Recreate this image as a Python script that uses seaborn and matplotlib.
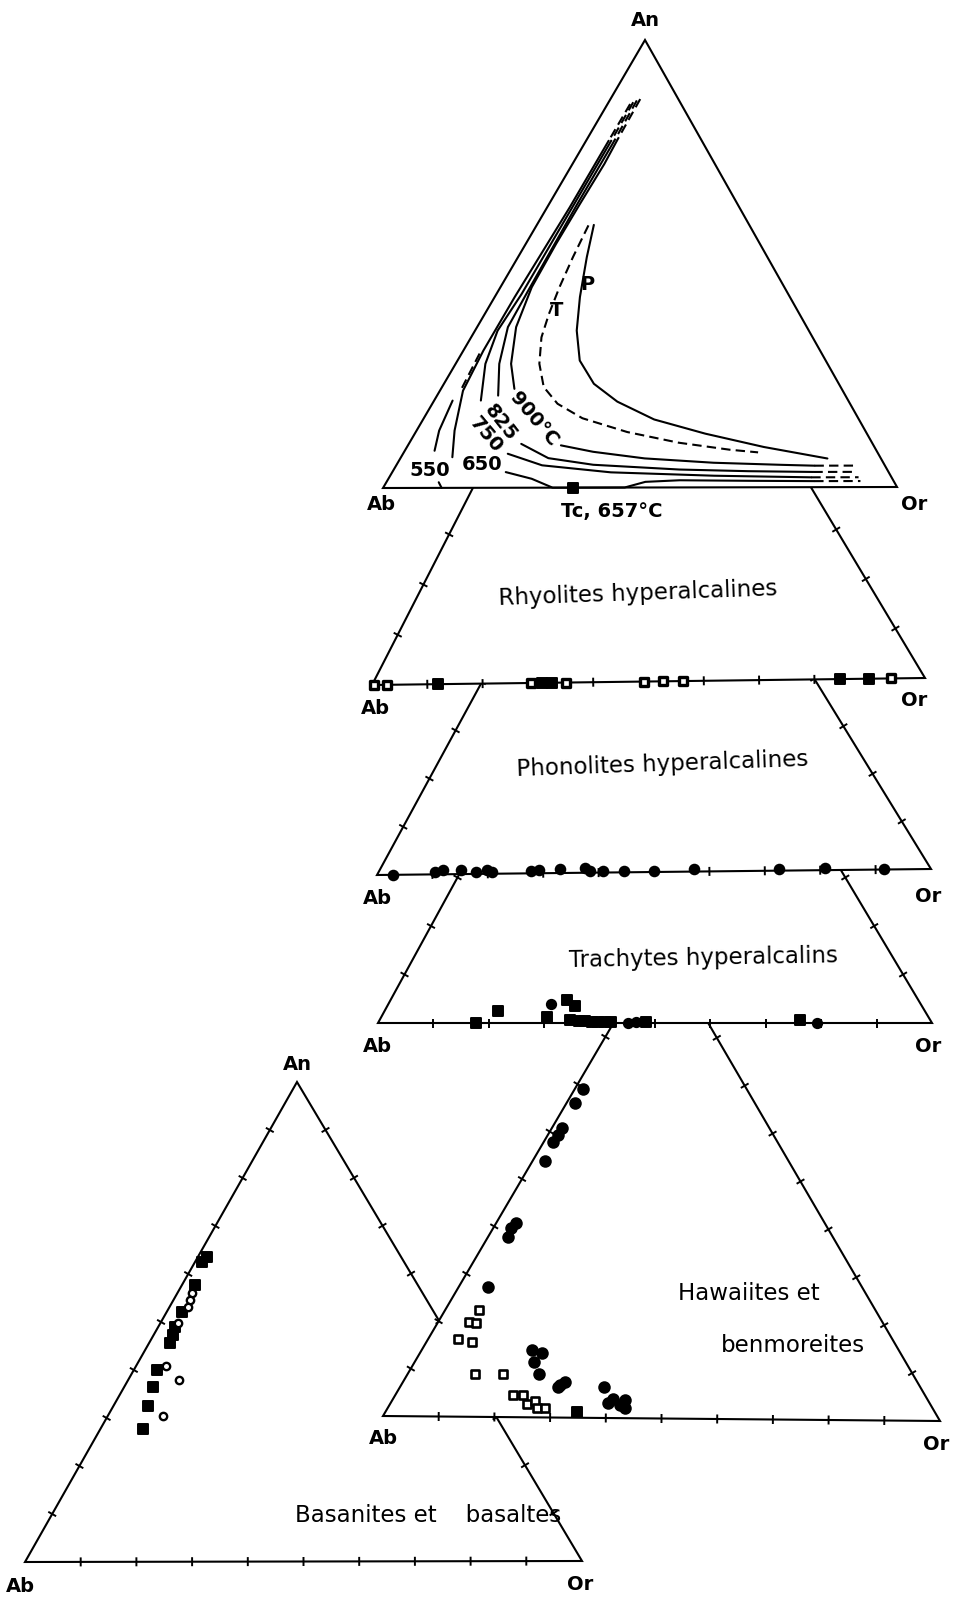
import matplotlib
matplotlib.use("Agg")
import matplotlib.pyplot as plt
from matplotlib.patches import Polygon
import numpy as np
import seaborn as sns

# ---------------- data: ternary fractions (An, Or), Ab = 1 - An - Or ----------------
# Rhyolites hyperalcalines (all on the Ab-Or join)
rhyo_or = [0.004, 0.028, 0.120, 0.288, 0.307, 0.325, 0.351, 0.492, 0.526, 0.562, 0.846, 0.899, 0.939]
rhyo_an = [0.0] * 13
rhyo_filled = [0, 0, 1, 0, 1, 1, 0, 0, 0, 0, 1, 1, 0]

# Phonolites hyperalcalines
phono_or = [0.028, 0.102, 0.115, 0.148, 0.177, 0.194, 0.205, 0.276, 0.289, 0.327,
            0.371, 0.382, 0.406, 0.445, 0.499, 0.569, 0.723, 0.807, 0.915]
phono_an = [0.0, 0.004, 0.008, 0.008, 0.004, 0.008, 0.004, 0.004, 0.006, 0.008,
            0.010, 0.004, 0.004, 0.002, 0.002, 0.006, 0.004, 0.004, 0.002]

# Trachytes hyperalcalins
trach_or = [0.177, 0.204, 0.299, 0.293, 0.318, 0.339, 0.344, 0.360, 0.371,
            0.384, 0.396, 0.409, 0.420, 0.452, 0.464, 0.482, 0.759, 0.793]
trach_an = [0.0, 0.025, 0.012, 0.040, 0.048, 0.036, 0.006, 0.005, 0.004,
            0.003, 0.003, 0.003, 0.002, 0.0, 0.002, 0.003, 0.007, 0.0]
trach_round = [0, 0, 0, 1, 0, 0, 0, 0, 0, 0, 0, 0, 0, 1, 1, 0, 0, 1]

# Hawaiites et benmoreites
haw_circ_an = [0.691, 0.660, 0.607, 0.593, 0.579, 0.538, 0.408, 0.396, 0.378, 0.273, 0.141, 0.136,
               0.117, 0.092, 0.068, 0.075, 0.064, 0.066, 0.031, 0.041, 0.028, 0.038, 0.021]
haw_circ_or = [0.015, 0.015, 0.018, 0.018, 0.017, 0.022, 0.035, 0.033, 0.036, 0.052, 0.198, 0.217,
               0.212, 0.234, 0.283, 0.289, 0.282, 0.363, 0.389, 0.393, 0.412, 0.415, 0.424]
haw_sq_an = [0.225, 0.198, 0.196, 0.163, 0.157, 0.090, 0.090, 0.047, 0.047, 0.028, 0.035, 0.019, 0.019]
haw_sq_or = [0.060, 0.056, 0.069, 0.053, 0.081, 0.120, 0.171, 0.210, 0.227, 0.244, 0.255, 0.267, 0.281]
haw_fsq_an = [0.011]
haw_fsq_or = [0.342]

# Basanites et basaltes
bas_sq_an = [0.636, 0.625, 0.577, 0.521, 0.490, 0.473, 0.456, 0.400, 0.365, 0.324, 0.277]
bas_sq_or = [0.016, 0.012, 0.023, 0.027, 0.030, 0.034, 0.037, 0.042, 0.051, 0.062, 0.077]
bas_circ_an = [0.560, 0.546, 0.532, 0.497, 0.408, 0.378, 0.303]
bas_circ_or = [0.026, 0.030, 0.033, 0.032, 0.054, 0.092, 0.099]

# Top diagram: solvus isotherms (An, Or) and critical point Tc
tc_an, tc_or = [0.0], [0.369]
iso900_top = ([0.868, 0.775], [0.058, 0.060])
iso900_left = ([0.775, 0.723, 0.634, 0.545, 0.448, 0.359, 0.277, 0.221],
               [0.060, 0.062, 0.060, 0.059, 0.061, 0.076, 0.108, 0.143])
iso900_base = ([0.0945, 0.080, 0.065, 0.055, 0.050, 0.048], [0.298, 0.368, 0.476, 0.615, 0.751, 0.815])
iso900_tail = ([0.048, 0.048], [0.815, 0.890])
iso825_top = ([0.865, 0.775], [0.053, 0.055])
iso825_left = ([0.775, 0.630, 0.440, 0.359, 0.277, 0.206], [0.055, 0.055, 0.058, 0.060, 0.085, 0.119])
iso825_base = ([0.098, 0.066, 0.051, 0.040, 0.036, 0.034], [0.219, 0.288, 0.383, 0.556, 0.692, 0.820])
iso825_tail = ([0.034, 0.034], [0.820, 0.903])
iso750_top = ([0.861, 0.775], [0.048, 0.049])
iso750_left = ([0.775, 0.630, 0.433, 0.351, 0.277, 0.195], [0.049, 0.049, 0.049, 0.044, 0.058, 0.091])
iso750_base = ([0.076, 0.050, 0.034, 0.026, 0.022], [0.204, 0.284, 0.426, 0.631, 0.822])
iso750_tail = ([0.022, 0.022], [0.822, 0.914])
iso650_top = ([0.857, 0.775], [0.044, 0.044])
iso650_left = ([0.775, 0.6265, 0.426, 0.3065, 0.217, 0.128, 0.0685],
               [0.044, 0.044, 0.039, 0.039, 0.045, 0.074, 0.100])
iso650_base = ([0.035, 0.020, 0.0, 0.0, 0.0126, 0.016, 0.0145, 0.0135],
               [0.221, 0.279, 0.330, 0.470, 0.504, 0.569, 0.704, 0.832])
iso650_tail = ([0.0135, 0.0135], [0.832, 0.922])
iso550_upper = ([0.30, 0.22], [0.035, 0.040])
iso550_mid = ([0.195, 0.128, 0.083], [0.036, 0.044, 0.058])
iso550_low = ([0.0126, 0.0], [0.102, 0.114])
curve_p = ([0.587, 0.515, 0.426, 0.351, 0.284, 0.232, 0.192, 0.152, 0.120, 0.090, 0.064],
           [0.111, 0.134, 0.166, 0.198, 0.238, 0.292, 0.358, 0.450, 0.566, 0.695, 0.832])
curve_t = ([0.586, 0.515, 0.448, 0.388, 0.336, 0.277, 0.225, 0.1875, 0.155, 0.124, 0.100, 0.084, 0.078],
           [0.101, 0.107, 0.115, 0.125, 0.137, 0.163, 0.198, 0.244, 0.309, 0.412, 0.524, 0.632, 0.690])

# ---------------- layout (pixel positions of triangle vertices) ----------------
PANELS = {
    "top":   dict(ab=(383, 488), orr=(897, 487), an=(645, 40), z=60, ticks=False),
    "rhyo":  dict(ab=(372, 685), orr=(925, 678), an=(629, 183), z=50, ticks=True),
    "phono": dict(ab=(377, 875), orr=(931, 869), an=(639, 393), z=40, ticks=True),
    "trach": dict(ab=(378, 1023), orr=(932, 1023), an=(643, 538), z=30, ticks=True),
    "haw":   dict(ab=(383, 1416), orr=(940, 1421), an=(661, 942), z=20, ticks=True),
    "bas":   dict(ab=(25, 1562), orr=(582, 1561), an=(297, 1082), z=10, ticks=True),
}

LW = 1.5


def tern(p, an, orr):
    an = np.asarray(an, float)
    orr = np.asarray(orr, float)
    ab, o, a = (np.array(p[k], float) for k in ("ab", "orr", "an"))
    x = ab[0] + orr * (o[0] - ab[0]) + an * (a[0] - ab[0])
    y = ab[1] + orr * (o[1] - ab[1]) + an * (a[1] - ab[1])
    return x, y


def draw_frame(ax, p):
    verts = [p["ab"], p["orr"], p["an"]]
    ax.add_patch(Polygon(verts, closed=True, facecolor="white", edgecolor="black",
                         lw=LW, joinstyle="miter", zorder=p["z"]))
    if not p["ticks"]:
        return
    for s, e in [(p["ab"], p["orr"]), (p["orr"], p["an"]), (p["an"], p["ab"])]:
        s, e = np.array(s, float), np.array(e, float)
        d = (e - s) / np.hypot(*(e - s))
        n = np.array([-d[1], d[0]]) * 4.5
        for t in np.arange(1, 10) / 10:
            c = s + t * (e - s)
            ax.plot([c[0] - n[0], c[0] + n[0]], [c[1] - n[1], c[1] + n[1]],
                    color="black", lw=1.4, solid_capstyle="butt", zorder=p["z"] + 1)


def dots(ax, p, an, orr, marker, size, face, lw=1.4):
    x, y = tern(p, an, orr)
    sns.scatterplot(x=x, y=y, marker=marker, s=size, color=face, edgecolor="black",
                    linewidth=lw, zorder=p["z"] + 3, ax=ax, legend=False)


def curve(ax, p, pts, dashed=False):
    x, y = tern(p, *pts)
    ax.plot(x, y, color="black", lw=LW, zorder=p["z"] + 2,
            linestyle=(0, (4.5, 2.5)) if dashed else "-")


def label(ax, x, y, s, size=14, weight="bold", rot=0, z=100):
    ax.text(x, y, s, fontsize=size, fontweight=weight, rotation=rot, color="black",
            ha="center", va="center", zorder=z)


sns.set_style("white")
plt.rcParams["font.family"] = ["DejaVu Sans"]
plt.rcParams["text.color"] = "black"

fig = plt.figure(figsize=(9.57, 15.98), dpi=100)
ax = fig.add_axes([0, 0, 1, 1])

for key in ["bas", "haw", "trach", "phono", "rhyo", "top"]:
    draw_frame(ax, PANELS[key])

# top diagram curves
P = PANELS["top"]
for top, left, base, tail in [(iso900_top, iso900_left, iso900_base, iso900_tail),
                              (iso825_top, iso825_left, iso825_base, iso825_tail),
                              (iso750_top, iso750_left, iso750_base, iso750_tail),
                              (iso650_top, iso650_left, iso650_base, iso650_tail)]:
    curve(ax, P, top, dashed=True)
    curve(ax, P, left)
    curve(ax, P, base)
    curve(ax, P, tail, dashed=True)
curve(ax, P, iso550_upper, dashed=True)
curve(ax, P, iso550_mid)
curve(ax, P, iso550_low)
curve(ax, P, curve_p)
curve(ax, P, curve_t, dashed=True)
dots(ax, P, tc_an, tc_or, "s", 60, "black")

# data points
R = PANELS["rhyo"]
f = np.array(rhyo_filled, bool)
dots(ax, R, np.array(rhyo_an)[f], np.array(rhyo_or)[f], "s", 55, "black")
dots(ax, R, np.array(rhyo_an)[~f], np.array(rhyo_or)[~f], "s", 34, "white", lw=2.4)

dots(ax, PANELS["phono"], phono_an, phono_or, "o", 48, "black")

T = PANELS["trach"]
rnd = np.array(trach_round, bool)
dots(ax, T, np.array(trach_an)[~rnd], np.array(trach_or)[~rnd], "s", 45, "black")
dots(ax, T, np.array(trach_an)[rnd], np.array(trach_or)[rnd], "o", 45, "black")

H = PANELS["haw"]
dots(ax, H, haw_circ_an, haw_circ_or, "o", 58, "black")
dots(ax, H, haw_sq_an, haw_sq_or, "s", 34, "white", lw=1.9)
dots(ax, H, haw_fsq_an, haw_fsq_or, "s", 48, "black")

B = PANELS["bas"]
dots(ax, B, bas_sq_an, bas_sq_or, "s", 48, "black")
dots(ax, B, bas_circ_an, bas_circ_or, "o", 28, "white", lw=1.7)

# vertex labels
label(ax, 645, 20, "An")
label(ax, 381, 505, "Ab")
label(ax, 914, 505, "Or")
label(ax, 612, 511, "Tc, 657°C")
label(ax, 375, 708, "Ab")
label(ax, 914, 701, "Or")
label(ax, 377, 898, "Ab")
label(ax, 928, 897, "Or")
label(ax, 377, 1047, "Ab")
label(ax, 928, 1047, "Or")
label(ax, 383, 1439, "Ab")
label(ax, 936, 1444, "Or")
label(ax, 297, 1064, "An")
label(ax, 20, 1586, "Ab")
label(ax, 580, 1584, "Or")

# isotherm labels
label(ax, 534, 419, "900°C", rot=-50)
label(ax, 501, 423, "825", rot=-52)
label(ax, 486, 435, "750", rot=-50)
label(ax, 482, 464, "650")
label(ax, 430, 471, "550")
label(ax, 557, 311, "T")
label(ax, 587, 284, "P")

# panel names
label(ax, 638, 594, "Rhyolites hyperalcalines", size=16.5, weight="normal", rot=2)
label(ax, 662, 764, "Phonolites hyperalcalines", size=16.5, weight="normal", rot=2)
label(ax, 703, 958, "Trachytes hyperalcalins", size=16.5, weight="normal", rot=1)
label(ax, 749, 1294, "Hawaiites et", size=16.5, weight="normal")
label(ax, 793, 1345, "benmoreites", size=16.5, weight="normal")
label(ax, 428, 1516, "Basanites et    basaltes", size=16.5, weight="normal")

ax.set_xlim(0, 957)
ax.set_ylim(1598, 0)
ax.set_axis_off()
fig.savefig("out.png", dpi=100, facecolor="white")
